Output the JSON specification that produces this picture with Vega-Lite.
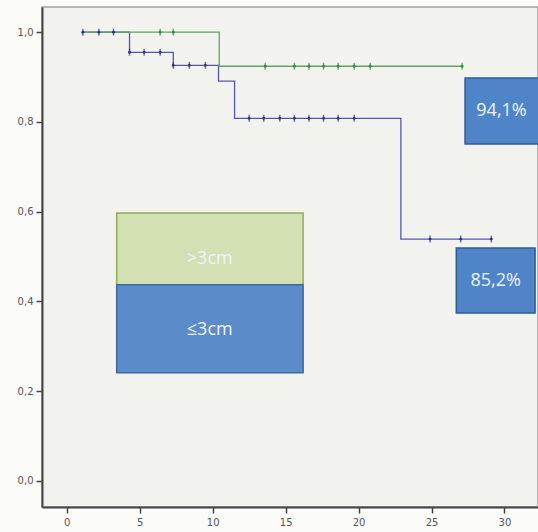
{
  "$schema": "https://vega.github.io/schema/vega-lite/v6.json",
  "width": 496,
  "height": 500,
  "autosize": {"type": "none"},
  "padding": {"left": 42, "top": 7, "right": 0, "bottom": 25},
  "background": "#fbfbfa",
  "config": {
    "view": {"fill": "#f2f2ee", "stroke": "#a0a0a0", "strokeWidth": 1.5},
    "axis": {
      "grid": false,
      "domainColor": "#444444",
      "domainWidth": 2,
      "tickColor": "#444444",
      "tickWidth": 1.5,
      "tickSize": 6,
      "labelColor": "#555555",
      "labelFontSize": 10,
      "labelFont": "DejaVu Sans",
      "title": null
    }
  },
  "resolve": {"scale": {"color": "independent", "fill": "independent", "stroke": "independent", "size": "independent"}},
  "datasets": {
    "curves": [
      {"group": "le3", "time": 1.05, "surv": 1.0},
      {"group": "le3", "time": 4.3, "surv": 0.955},
      {"group": "le3", "time": 7.3, "surv": 0.926},
      {"group": "le3", "time": 10.4, "surv": 0.891},
      {"group": "le3", "time": 11.5, "surv": 0.808},
      {"group": "le3", "time": 22.9, "surv": 0.539},
      {"group": "le3", "time": 29.1, "surv": 0.539},
      {"group": "gt3", "time": 1.05, "surv": 1.0},
      {"group": "gt3", "time": 10.45, "surv": 0.924},
      {"group": "gt3", "time": 27.1, "surv": 0.924}
    ],
    "censor": [
      {"group": "le3", "time": 1.1, "surv": 1.0},
      {"group": "le3", "time": 2.2, "surv": 1.0},
      {"group": "le3", "time": 3.2, "surv": 1.0},
      {"group": "le3", "time": 4.3, "surv": 0.955},
      {"group": "le3", "time": 5.3, "surv": 0.955},
      {"group": "le3", "time": 6.4, "surv": 0.955},
      {"group": "le3", "time": 7.3, "surv": 0.926},
      {"group": "le3", "time": 8.4, "surv": 0.926},
      {"group": "le3", "time": 9.5, "surv": 0.926},
      {"group": "le3", "time": 12.5, "surv": 0.808},
      {"group": "le3", "time": 13.5, "surv": 0.808},
      {"group": "le3", "time": 14.6, "surv": 0.808},
      {"group": "le3", "time": 15.6, "surv": 0.808},
      {"group": "le3", "time": 16.6, "surv": 0.808},
      {"group": "le3", "time": 17.6, "surv": 0.808},
      {"group": "le3", "time": 18.6, "surv": 0.808},
      {"group": "le3", "time": 19.7, "surv": 0.808},
      {"group": "le3", "time": 24.9, "surv": 0.539},
      {"group": "le3", "time": 27.0, "surv": 0.539},
      {"group": "le3", "time": 29.1, "surv": 0.539},
      {"group": "gt3", "time": 6.4, "surv": 1.0},
      {"group": "gt3", "time": 7.3, "surv": 1.0},
      {"group": "gt3", "time": 13.6, "surv": 0.924},
      {"group": "gt3", "time": 15.6, "surv": 0.924},
      {"group": "gt3", "time": 16.6, "surv": 0.924},
      {"group": "gt3", "time": 17.6, "surv": 0.924},
      {"group": "gt3", "time": 18.6, "surv": 0.924},
      {"group": "gt3", "time": 19.7, "surv": 0.924},
      {"group": "gt3", "time": 20.8, "surv": 0.924},
      {"group": "gt3", "time": 27.1, "surv": 0.924}
    ],
    "boxes": [
      {"name": "gt3", "x1": 3.42, "x2": 16.2, "y1": 0.437, "y2": 0.597, "label": ">3cm", "tx": 9.8, "ty": 0.495},
      {"name": "le3", "x1": 3.42, "x2": 16.2, "y1": 0.241, "y2": 0.437, "label": "≤3cm", "tx": 9.8, "ty": 0.336},
      {"name": "p94", "x1": 27.3, "x2": 32.6, "y1": 0.751, "y2": 0.898, "label": "94,1%", "tx": 29.8, "ty": 0.824},
      {"name": "p85", "x1": 26.7, "x2": 32.1, "y1": 0.374, "y2": 0.519, "label": "85,2%", "tx": 29.4, "ty": 0.446}
    ]
  },
  "layer": [
    {
      "data": {"name": "curves"},
      "mark": {"type": "line", "interpolate": "step-after", "strokeWidth": 1.3, "clip": true},
      "encoding": {
        "x": {"field": "time", "type": "quantitative", "scale": {"domain": [-1.7, 32.3], "nice": false, "zero": false},
              "axis": {"values": [0, 5, 10, 15, 20, 25, 30], "labelPadding": 4}},
        "y": {"field": "surv", "type": "quantitative", "scale": {"domain": [-0.058, 1.056], "nice": false, "zero": false},
              "axis": {"values": [0, 0.2, 0.4, 0.6, 0.8, 1.0], "labelExpr": "replace(format(datum.value, '.1f'), '.', ',')", "labelPadding": 3}},
        "color": {"field": "group", "type": "nominal", "scale": {"domain": ["le3", "gt3"], "range": ["#5656b0", "#5ea85e"]}, "legend": null},
        "order": {"field": "time", "type": "quantitative"}
      }
    },
    {
      "data": {"name": "censor"},
      "mark": {"type": "tick", "orient": "vertical", "size": 7, "thickness": 1.5},
      "encoding": {
        "x": {"field": "time", "type": "quantitative", "scale": {"domain": [-1.7, 32.3], "nice": false, "zero": false}},
        "y": {"field": "surv", "type": "quantitative", "scale": {"domain": [-0.058, 1.056], "nice": false, "zero": false}},
        "color": {"field": "group", "type": "nominal", "scale": {"domain": ["le3", "gt3"], "range": ["#3c3c8c", "#4a904a"]}, "legend": null}
      }
    },
    {
      "data": {"name": "censor"},
      "mark": {"type": "point", "shape": "circle", "size": 8, "filled": true, "opacity": 1},
      "encoding": {
        "x": {"field": "time", "type": "quantitative", "scale": {"domain": [-1.7, 32.3], "nice": false, "zero": false}},
        "y": {"field": "surv", "type": "quantitative", "scale": {"domain": [-0.058, 1.056], "nice": false, "zero": false}},
        "color": {"field": "group", "type": "nominal", "scale": {"domain": ["le3", "gt3"], "range": ["#2e2e70", "#3a803a"]}, "legend": null}
      }
    },
    {
      "data": {"name": "boxes"},
      "mark": {"type": "rect", "strokeWidth": 1.5, "clip": true},
      "encoding": {
        "x": {"field": "x1", "type": "quantitative", "scale": {"domain": [-1.7, 32.3], "nice": false, "zero": false}},
        "x2": {"field": "x2"},
        "y": {"field": "y1", "type": "quantitative", "scale": {"domain": [-0.058, 1.056], "nice": false, "zero": false}},
        "y2": {"field": "y2"},
        "fill": {"field": "name", "type": "nominal", "scale": {"domain": ["gt3", "le3", "p94", "p85"], "range": ["#d3e0b4", "#5b8bc8", "#4f84c8", "#4f84c8"]}, "legend": null},
        "stroke": {"field": "name", "type": "nominal", "scale": {"domain": ["gt3", "le3", "p94", "p85"], "range": ["#93ad5a", "#3d6a9e", "#2f5d94", "#2f5d94"]}, "legend": null}
      }
    },
    {
      "data": {"name": "boxes"},
      "mark": {"type": "text", "font": "Open Sans", "align": "center", "baseline": "middle", "color": "#eef3fa"},
      "encoding": {
        "x": {"field": "tx", "type": "quantitative", "scale": {"domain": [-1.7, 32.3], "nice": false, "zero": false}},
        "y": {"field": "ty", "type": "quantitative", "scale": {"domain": [-0.058, 1.056], "nice": false, "zero": false}},
        "text": {"field": "label"},
        "size": {"field": "name", "type": "nominal", "scale": {"domain": ["gt3", "le3", "p94", "p85"], "range": [18, 18, 12, 12]}, "legend": null}
      }
    }
  ]
}
